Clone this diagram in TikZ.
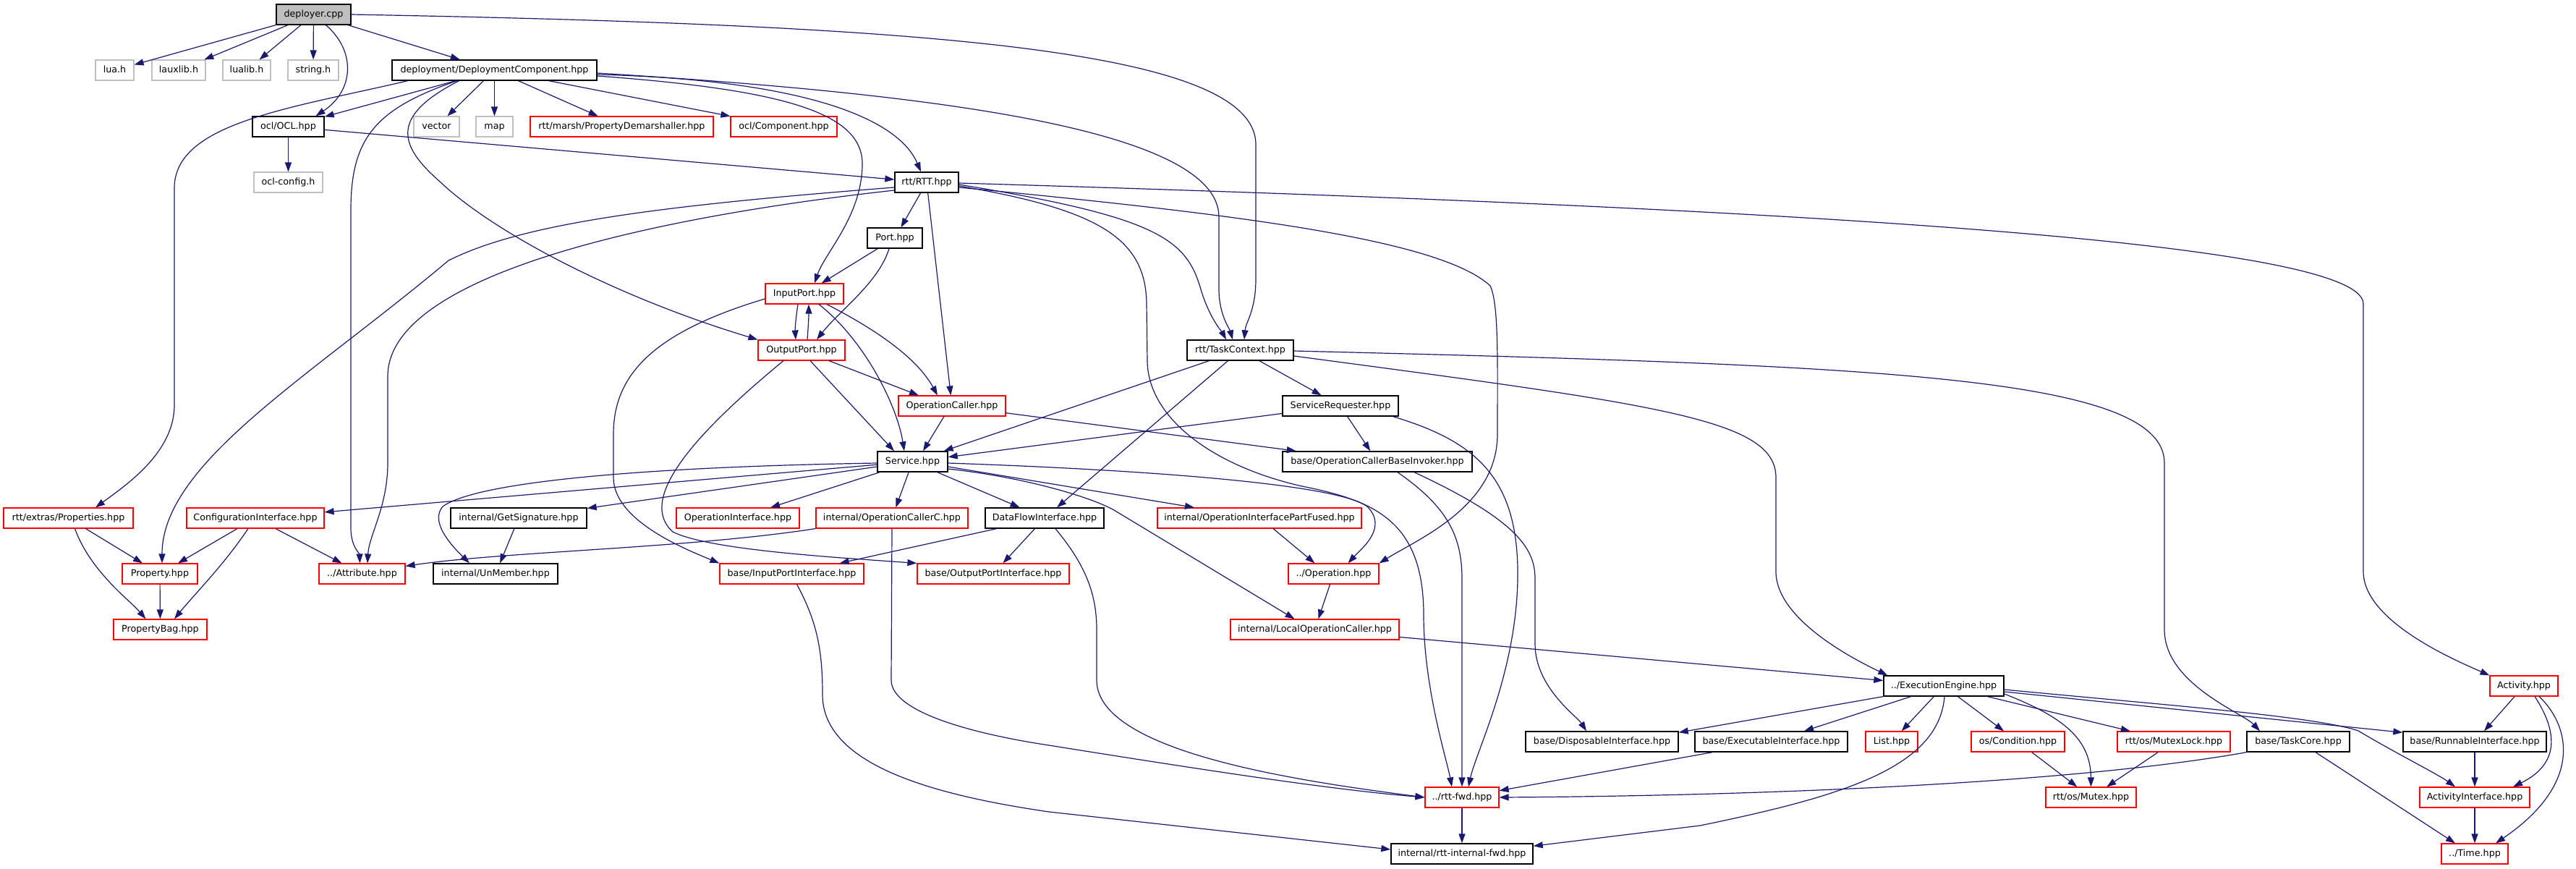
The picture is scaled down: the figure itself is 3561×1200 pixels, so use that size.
\documentclass[tikz,border=0pt]{standalone}
\usepackage{fontspec}
\setmainfont{DejaVu Sans}
\usetikzlibrary{arrows.meta,calc}
\definecolor{edgeblue}{HTML}{191970}
\definecolor{lightgrey}{HTML}{BFBFBF}
\definecolor{rootfill}{HTML}{BFBFBF}
\begin{document}
\begin{tikzpicture}[x=1pt,y=-1pt,
  nbase/.style={rectangle,inner sep=0pt,minimum height=28pt,fill=white,line width=1.15pt,
    font=\fontsize{12.7}{15}\selectfont,text height=9.3pt,text depth=2.7pt,align=center},
  blk/.style={nbase,draw=black,line width=1.4pt},
  rednode/.style={nbase,draw=red},
  gry/.style={nbase,draw=lightgrey},
  root/.style={nbase,draw=black,fill=rootfill,line width=1.4pt},
  e/.style={draw=edgeblue,line width=1.2pt,-{Triangle[length=13pt,width=9pt]},fill=none},
]
\useasboundingbox (0,0) rectangle (3561,1200);
% rank 0
\node[root,minimum width=103pt] (dep) at (433.5,20) {deployer.cpp};
% rank 1
\node[gry,minimum width=53pt] (lua) at (158.5,97) {lua.h};
\node[gry,minimum width=74pt] (lauxlib) at (247,97) {lauxlib.h};
\node[gry,minimum width=66pt] (lualib) at (341,97) {lualib.h};
\node[gry,minimum width=70pt] (stringh) at (433,97) {string.h};
\node[blk,minimum width=283pt] (DC) at (683.5,97) {deployment/DeploymentComponent.hpp};
% rank 2
\node[blk,minimum width=99pt] (OCL) at (398.5,175) {ocl/OCL.hpp};
\node[gry,minimum width=63pt] (vector) at (603.5,175) {vector};
\node[gry,minimum width=51pt] (map) at (683.5,175) {map};
\node[rednode,minimum width=253pt] (PD) at (859.5,175) {rtt/marsh/PropertyDemarshaller.hpp};
\node[rednode,minimum width=147pt] (Comp) at (1083.5,175) {ocl/Component.hpp};
% rank 3
\node[gry,minimum width=95pt] (oclcfg) at (398.5,252) {ocl-config.h};
\node[blk,minimum width=88pt] (RTT) at (1281,252) {rtt/RTT.hpp};
% rank 4
\node[blk,minimum width=76pt] (Port) at (1237,329) {Port.hpp};
% rank 5
\node[rednode,minimum width=108pt] (IP) at (1112,406) {InputPort.hpp};
% rank 6
\node[rednode,minimum width=120pt] (OP) at (1108,484) {OutputPort.hpp};
\node[blk,minimum width=147pt] (TC) at (1714.5,484) {rtt/TaskContext.hpp};
% rank 7
\node[rednode,minimum width=148pt] (OC) at (1316,561) {OperationCaller.hpp};
\node[blk,minimum width=160pt] (SR) at (1853,561) {ServiceRequester.hpp};
% rank 8
\node[blk,minimum width=97pt] (Serv) at (1261.5,638) {Service.hpp};
\node[blk,minimum width=262pt] (BI) at (1904,638) {base/OperationCallerBaseInvoker.hpp};
% rank 9
\node[rednode,minimum width=179pt] (Props) at (94.5,716) {rtt/extras/Properties.hpp};
\node[rednode,minimum width=190pt] (CI) at (353,716) {ConfigurationInterface.hpp};
\node[blk,minimum width=188pt] (GS) at (717,716) {internal/GetSignature.hpp};
\node[rednode,minimum width=170pt] (OI) at (1020,716) {OperationInterface.hpp};
\node[rednode,minimum width=210pt] (OCC) at (1233,716) {internal/OperationCallerC.hpp};
\node[blk,minimum width=164pt] (DFI) at (1444,716) {DataFlowInterface.hpp};
\node[rednode,minimum width=282pt] (PF) at (1741,716) {internal/OperationInterfacePartFused.hpp};
% rank 10
\node[rednode,minimum width=104pt] (Prop) at (221,793) {Property.hpp};
\node[rednode,minimum width=119pt] (Attr) at (500.5,793) {../Attribute.hpp};
\node[blk,minimum width=172pt] (UM) at (685,793) {internal/UnMember.hpp};
\node[rednode,minimum width=199pt] (IPI) at (1094.5,793) {base/InputPortInterface.hpp};
\node[rednode,minimum width=210pt] (OPI) at (1373,793) {base/OutputPortInterface.hpp};
\node[rednode,minimum width=125pt] (Op) at (1843.5,793) {../Operation.hpp};
% rank 11
\node[rednode,minimum width=129pt] (PB) at (221.5,870) {PropertyBag.hpp};
\node[rednode,minimum width=233pt] (LOC) at (1817.5,870) {internal/LocalOperationCaller.hpp};
% rank 12
\node[blk,minimum width=166pt] (EE) at (2687,948) {../ExecutionEngine.hpp};
\node[rednode,minimum width=94pt] (Act) at (3489,948) {Activity.hpp};
% rank 13
\node[blk,minimum width=211pt] (DI) at (2214.5,1025) {base/DisposableInterface.hpp};
\node[blk,minimum width=211pt] (EI) at (2448.5,1025) {base/ExecutableInterface.hpp};
\node[rednode,minimum width=72pt] (List) at (2615,1025) {List.hpp};
\node[rednode,minimum width=129pt] (Cond) at (2789.5,1025) {os/Condition.hpp};
\node[rednode,minimum width=156pt] (ML) at (3005,1025) {rtt/os/MutexLock.hpp};
\node[blk,minimum width=142pt] (TCo) at (3177,1025) {base/TaskCore.hpp};
\node[blk,minimum width=198pt] (RI) at (3421,1025) {base/RunnableInterface.hpp};
% rank 14
\node[rednode,minimum width=102pt] (fwd) at (2021,1102) {../rtt-fwd.hpp};
\node[rednode,minimum width=125pt] (Mtx) at (2890.5,1102) {rtt/os/Mutex.hpp};
\node[rednode,minimum width=152pt] (AI) at (3421,1102) {ActivityInterface.hpp};
% rank 15
\node[blk,minimum width=196pt] (RIF) at (2021,1180) {internal/rtt-internal-fwd.hpp};
\node[rednode,minimum width=92pt] (Time) at (3421,1180) {../Time.hpp};

% ---------------- edges ----------------
% deployer.cpp
\draw[e] (dep) -- (lua);
\draw[e] (dep) -- (lauxlib);
\draw[e] (dep) -- (lualib);
\draw[e] (dep) -- (stringh);
\draw[e] ($(dep.south)+(17,0)$) .. controls (492,70) and (490,125) .. ($(OCL.north)+(38,0)$);
\draw[e] (dep) -- (DC);
\draw[e] (dep.east) .. controls (1300,35) and (1736,70) .. (1736,200) -- (1736,385) .. controls (1736,430) and (1722,445) .. ($(TC.north)+(5.5,0)$);
% DeploymentComponent
\draw[e] (DC) -- (OCL);
\draw[e] ($(DC.south)+(-120,0)$) .. controls (400,150) and (241,170) .. (241,260) -- (241,560) .. controls (241,625) and (175,670) .. ($(Props.north)+(37.5,0)$);
\draw[e] ($(DC.south)+(-52,0)$) .. controls (520,150) and (485,190) .. (485,290) -- (485,730) .. controls (485,755) and (497,765) .. ($(Attr.north)+(-3,0)$);
\draw[e] ($(DC.south)+(-49,0)$) .. controls (540,160) and (550,200) .. (607,250) .. controls (680,320) and (850,410) .. (OP.north west);
\draw[e] (DC) -- (vector);
\draw[e] (DC) -- (map);
\draw[e] (DC) -- (PD);
\draw[e] (DC) -- (Comp);
\draw[e] ($(DC.east)+(0,6)$) .. controls (1100,110) and (1240,160) .. ($(RTT.north)+(-8,0)$);
\draw[e] ($(DC.east)+(0,8)$) .. controls (1100,125) and (1195,160) .. (1192,230) .. controls (1190,300) and (1140,350) .. ($(IP.north)+(14,0)$);
\draw[e] ($(DC.east)+(0,4)$) .. controls (1300,130) and (1685,180) .. (1685,300) -- (1685,400) .. controls (1685,435) and (1700,455) .. ($(TC.north)+(-10.5,0)$);
% OCL
\draw[e] (OCL) -- (RTT);
\draw[e] (OCL) -- (oclcfg);
% RTT
\draw[e] (RTT) -- (Port);
\draw[e] (RTT) -- (OC);
\draw[e] ($(RTT.west)+(0,7)$) .. controls (900,285) and (720,310) .. (620,360) .. controls (430,520) and (224,640) .. ($(Prop.north)+(3,0)$);
\draw[e] ($(RTT.west)+(0,11)$) .. controls (900,300) and (536,380) .. (536,520) -- (536,640) .. controls (536,700) and (510,740) .. ($(Attr.north)+(7.5,0)$);
\draw[e] ($(RTT.east)+(0,3)$) .. controls (1600,300) and (1640,330) .. (1660,400) .. controls (1672,440) and (1690,460) .. ($(TC.north)+(-19.5,0)$);
\draw[e] ($(RTT.east)+(0,5)$) .. controls (1520,290) and (1584,330) .. (1585,420) -- (1586,500) .. controls (1588,580) and (1680,645) .. (1800,672) .. controls (1900,692) and (1968,720) .. (1968,850) .. controls (1968,950) and (2000,1050) .. ($(fwd.north)+(-14,0)$);
\draw[e] ($(RTT.east)+(0,7)$) .. controls (1700,295) and (1990,330) .. (2060,395) .. controls (2072,420) and (2070,500) .. (2070,600) .. controls (2070,700) and (1960,745) .. (Op.north east);
\draw[e] ($(RTT.east)+(0,1)$) .. controls (2400,285) and (3267,330) .. (3267,420) -- (3267,790) .. controls (3267,860) and (3400,915) .. (Act.north west);
% Port
\draw[e] (Port) -- (IP);
\draw[e] ($(Port.south)+(-8,0)$) .. controls (1215,390) and (1160,430) .. ($(OP.north)+(21,0)$);
% InputPort / OutputPort
\draw[e] ($(IP.south)+(-9,0)$) .. controls (1100,440) and (1099,455) .. ($(OP.north)+(-8,0)$);
\draw[e] ($(OP.north)+(8,0)$) .. controls (1117,455) and (1118,440) .. ($(IP.south)+(6,0)$);
\draw[e] ($(IP.south)+(31,0)$) .. controls (1200,450) and (1265,490) .. ($(OC.north)+(-20,0)$);
\draw[e] ($(IP.south)+(20,0)$) .. controls (1195,470) and (1240,560) .. ($(Serv.north)+(-11.5,0)$);
\draw[e] ($(IP.west)+(0,7)$) .. controls (900,460) and (848,520) .. (848,600) -- (848,660) .. controls (848,720) and (950,760) .. (IPI.north west);
\draw[e] ($(OP.south)+(38,0)$) -- ($(OC.north)+(-46,0)$);
\draw[e] ($(OP.south)+(12,0)$) -- ($(Serv.north)+(-25.5,0)$);
\draw[e] ($(OP.south)+(-25,0)$) .. controls (960,600) and (880,690) .. (930,735) .. controls (980,760) and (1150,770) .. (OPI.north west);
% OperationCaller
\draw[e] ($(OC.south)+(-11,0)$) -- ($(Serv.north)+(14.5,0)$);
\draw[e] (OC) -- (BI);
% TaskContext
\draw[e] (TC) -- (Serv);
\draw[e] (TC) -- (DFI);
\draw[e] (TC) -- (SR);
\draw[e] ($(TC.east)+(0,1)$) .. controls (2600,505) and (2992,520) .. (2992,640) -- (2992,870) .. controls (2992,945) and (3100,985) .. ($(TCo.north)+(-53,0)$);
\draw[e] ($(TC.east)+(0,8)$) .. controls (2300,560) and (2455,580) .. (2455,660) -- (2455,790) .. controls (2455,855) and (2560,910) .. ($(EE.north west)+(6,0)$);
% ServiceRequester
\draw[e] (SR) -- (Serv);
\draw[e] (SR) -- (BI);
\draw[e] ($(SR.south east)+(-8,0)$) .. controls (2040,610) and (2100,660) .. (2098,800) .. controls (2096,930) and (2040,1040) .. ($(fwd.north)+(9,0)$);
% BaseInvoker
\draw[e] ($(BI.south)+(28,0)$) .. controls (2000,700) and (2021,740) .. (2021,800) -- (fwd.north);
\draw[e] ($(BI.south)+(51,0)$) .. controls (2100,720) and (2122,760) .. (2122,800) -- (2122,890) .. controls (2122,950) and (2180,990) .. ($(DI.north)+(-21.5,0)$);
% Service
\draw[e] (Serv) -- (CI);
\draw[e] (Serv) -- (GS);
\draw[e] ($(Serv.west)+(0,2)$) .. controls (900,645) and (660,665) .. (612,700) .. controls (595,720) and (620,750) .. ($(UM.north)+(-36,0)$);
\draw[e] (Serv) -- (OI);
\draw[e] (Serv) -- (OCC);
\draw[e] (Serv) -- (DFI);
\draw[e] ($(Serv.east)+(0,2)$) .. controls (1600,650) and (1850,670) .. (1890,700) .. controls (1920,730) and (1880,760) .. ($(Op.north)+(20,0)$);
\draw[e] ($(Serv.east)+(0,7)$) -- ($(PF.north)+(-90,0)$);
\draw[e] ($(Serv.east)+(0,10)$) .. controls (1420,660) and (1510,688) .. (1540,705) -- ($(LOC.north)+(-28,0)$);
% rank 9 sources
\draw[e] (GS) -- (UM);
\draw[e] (OCC.south west) .. controls (950,758) and (700,762) .. ($(Attr.north east)+(0,4)$);
\draw[e] (OCC.south) -- (1232,940) .. controls (1232,985) and (1350,1015) .. (1450,1030) .. controls (1700,1070) and (1850,1092) .. (fwd.west);
\draw[e] (DFI) -- (IPI);
\draw[e] (DFI) -- (OPI);
\draw[e] ($(DFI.south)+(15,0)$) .. controls (1500,780) and (1516,820) .. (1516,870) -- (1516,940) .. controls (1516,1040) and (1800,1080) .. (fwd.west);
\draw[e] ($(PF.south)+(19,0)$) -- ($(Op.north)+(-26,0)$);
\draw[e] (Op) -- (LOC);
\draw[e] (LOC) -- (EE);
\draw[e] (CI) -- (Prop);
\draw[e] ($(CI.south)+(-10,0)$) .. controls (310,780) and (270,820) .. ($(PB.north)+(19.5,0)$);
\draw[e] (CI) -- (Attr);
\draw[e] (Props) -- (Prop);
\draw[e] ($(Props.south)+(9,0)$) .. controls (125,790) and (180,830) .. ($(PB.north)+(-20,0)$);
\draw[e] (Prop) -- (PB);
\draw[e] ($(IPI.south)+(7,0)$) .. controls (1130,860) and (1137,900) .. (1137,960) .. controls (1137,1060) and (1300,1100) .. (1450,1122) -- ($(RIF.west)+(0,-6)$);
\draw[e] (fwd) -- (RIF);
% ExecutionEngine
\draw[e] (EE) -- ($(DI.north east)+(0,2)$);
\draw[e] (EE) -- (EI);
\draw[e] (EE) -- (List);
\draw[e] ($(EE.south)+(1,0)$) .. controls (2680,1060) and (2550,1100) .. (2350,1141) -- ($(RIF.north east)+(0,4)$);
\draw[e] (EE) -- (Cond);
\draw[e] ($(EE.east)+(0,11)$) .. controls (2850,990) and (2890,1020) .. (Mtx.north);
\draw[e] (EE) -- (ML);
\draw[e] ($(EE.east)+(0,8)$) -- ($(RI.north west)+(0,2)$);
\draw[e] ($(EE.east)+(0,5)$) .. controls (3000,975) and (3200,990) .. (3260,1010) .. controls (3310,1040) and (3370,1070) .. ($(AI.north)+(-27,0)$);
% Activity
\draw[e] (Act) -- (RI);
\draw[e] ($(Act.south)+(15,0)$) .. controls (3525,995) and (3550,1050) .. ($(AI.north)+(53,0)$);
\draw[e] ($(Act.south)+(21,0)$) .. controls (3550,1000) and (3575,1080) .. ($(Time.north)+(29,0)$);
% rank 13 sources
\draw[e] ($(TCo.south)+(24,0)$) -- ($(Time.north)+(-27,0)$);
\draw[e] (RI) -- (AI);
\draw[e] (AI) -- (Time);
\draw[e] (Cond) -- (Mtx);
\draw[e] (ML) -- (Mtx);
\draw[e] (EI) -- (fwd);
\draw[e] (TCo.south west) .. controls (2850,1085) and (2400,1100) .. (fwd.east);
\end{tikzpicture}
\end{document}
